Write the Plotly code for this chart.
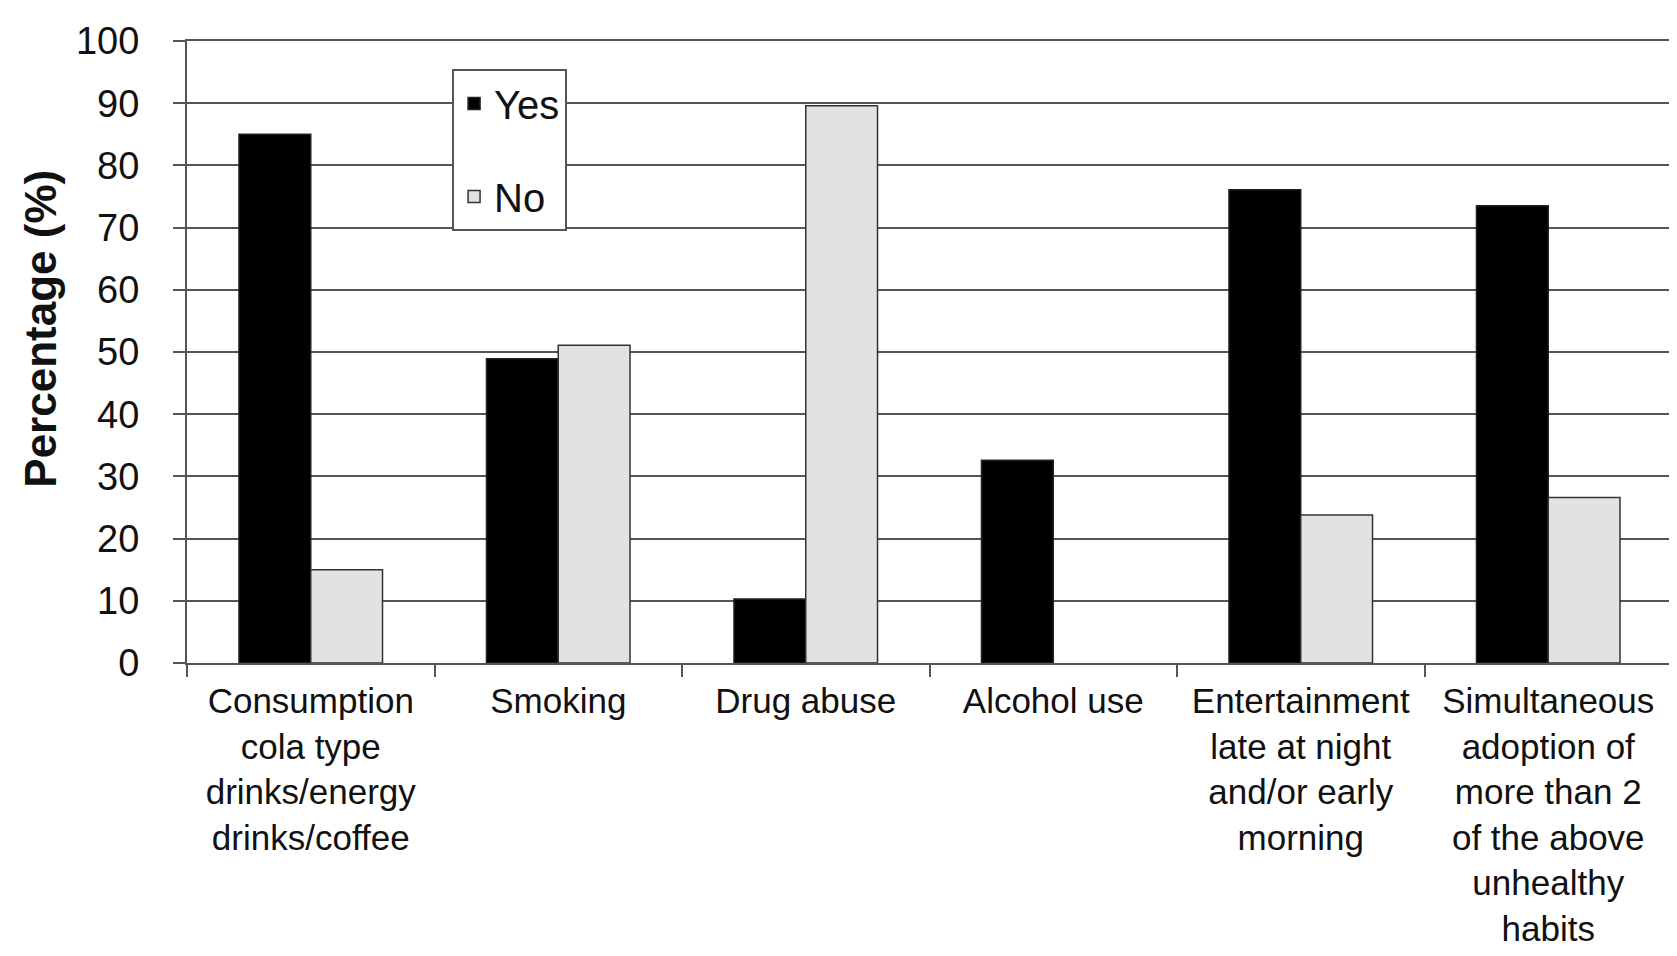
import plotly.graph_objects as go

categories = [
    "Consumption<br>cola type<br>drinks/energy<br>drinks/coffee",
    "Smoking",
    "Drug abuse",
    "Alcohol use",
    "Entertainment<br>late at night<br>and/or early<br>morning",
    "Simultaneous<br>adoption of<br>more than 2<br>of the above<br>unhealthy<br>habits",
]
yes_values = [85.0, 48.9, 10.3, 32.6, 76.1, 73.5]
no_values = [15.0, 51.1, 89.6, None, 23.8, 26.6]
y_ticks = [0, 10, 20, 30, 40, 50, 60, 70, 80, 90, 100]
y_title = "<b>Percentage (%)</b>"

FONT = "Liberation Sans, Arial, sans-serif"
GRID = "#555555"

fig = go.Figure()
fig.add_trace(go.Bar(
    name="Yes", x=categories, y=yes_values,
    marker=dict(color="#000000", line=dict(color="#222222", width=1.5)),
    legendgroup="yes",
))
fig.add_trace(go.Bar(
    name="No", x=categories, y=no_values,
    marker=dict(color="#e2e2e2", line=dict(color="#333333", width=1.5)),
    legendgroup="no",
))

fig.update_layout(
    width=1677, height=956,
    margin=dict(l=179, r=13, t=33, b=301),
    paper_bgcolor="white", plot_bgcolor="white",
    barmode="group", bargap=0.42, bargroupgap=0,
    font=dict(family=FONT, color="#111111"),
    showlegend=True,
    legend=dict(
        x=0.1785, y=0.955, xanchor="left", yanchor="top",
        bgcolor="white", bordercolor=GRID, borderwidth=2,
        font=dict(size=40, family=FONT, color="#111111"),
        tracegroupgap=38, traceorder="grouped",
        itemwidth=30, entrywidth=140, entrywidthmode="pixels",
    ),
    xaxis=dict(
        type="category",
        showgrid=False,
        showline=True, linecolor=GRID, linewidth=2, mirror=True,
        ticks="outside", tickson="boundaries", ticklen=12, tickwidth=2, tickcolor=GRID,
        tickfont=dict(size=35, family=FONT, color="#111111"),
        ticklabelstandoff=6,
        automargin=False,
    ),
    yaxis=dict(
        range=[0, 100], tickvals=y_ticks,
        showgrid=True, gridcolor=GRID, gridwidth=2,
        showline=True, linecolor=GRID, linewidth=2, mirror=True,
        ticks="outside", ticklen=12, tickwidth=2, tickcolor=GRID,
        tickfont=dict(size=38, family=FONT, color="#111111"),
        ticklabelstandoff=26,
        zeroline=False,
        automargin=False,
    ),
    annotations=[dict(
        text=y_title, textangle=-90,
        xref="paper", yref="paper",
        x=-0.0985, y=0.537, xanchor="center", yanchor="middle",
        showarrow=False,
        font=dict(size=44, family=FONT, color="#111111"),
    )],
)

fig.write_html("out.html")
